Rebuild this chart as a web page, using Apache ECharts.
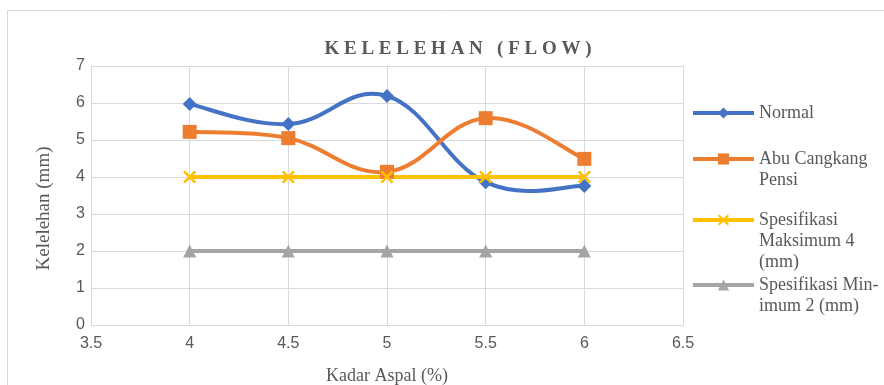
<!DOCTYPE html>
<html>
<head>
<meta charset="utf-8">
<script src="https://cdn.jsdelivr.net/npm/echarts@6/dist/echarts.min.js"></script>
<style>
  html, body { margin: 0; padding: 0; background: #fff; }
  #chart { width: 884px; height: 385px; }
</style>
</head>
<body>
<div id="chart"></div>
<script>
// Kadar aspal (%) on the x axis
const kadarAspal = [4, 4.5, 5, 5.5, 6];
// Kelelehan (mm) per mix
const normal = [5.97, 5.43, 6.19, 3.86, 3.76];
const abuCangkangPensi = [5.22, 5.05, 4.14, 5.59, 4.49];
const spesifikasiMaks = [4, 4, 4, 4, 4];
const spesifikasiMin = [2, 2, 2, 2, 2];
const seriesNames = ['Normal', 'Abu Cangkang Pensi', 'Spesifikasi Maksimum 4 (mm)', 'Spesifikasi Minimum 2 (mm)'];
const legendLabels = ['Normal', 'Abu Cangkang\nPensi', 'Spesifikasi\nMaksimum 4\n(mm)', 'Spesifikasi Min-\nimum 2 (mm)'];

const serif = '"Liberation Serif", "DejaVu Serif", serif';
const sans = '"Liberation Sans", Arial, sans-serif';
const textGrey = '#595959';
const colors = ['#4472C4', '#ED7D31', '#FFC000', '#A5A5A5'];
const xMark = 'path://M0,1.4L1.4,0L5,3.6L8.6,0L10,1.4L6.4,5L10,8.6L8.6,10L5,6.4L1.4,10L0,8.6L3.6,5Z';

const pairs = ys => kadarAspal.map((x, i) => [x, ys[i]]);
const lineH = 21;
// vertical position of each legend icon
const legendIconY = [113, 159, 220, 285];

const chart = echarts.init(document.getElementById('chart'), null, { renderer: 'canvas' });

// one legend block per entry, so the icon sits beside the first text line
const legends = seriesNames.map((name, i) => {
  const lines = legendLabels[i].split('\n').length;
  const pad = '\n'.repeat(lines - 1);
  const total = (2 * lines - 1) * lineH;
  return {
    left: 691,
    top: legendIconY[i] - total / 2,
    orient: 'vertical',
    itemWidth: 61,
    itemHeight: 14,
    itemGap: 0,
    padding: 0,
    data: [{ name, lineStyle: { width: 4, opacity: 1, color: colors[i] } }],
    formatter: () => pad + legendLabels[i],
    textStyle: {
      fontFamily: serif,
      fontSize: 18,
      color: textGrey,
      lineHeight: lineH
    }
  };
});

// markers (and the legend entry) for each series
const markerSeries = (name, data, color, symbol, size, showLine) => ({
  name,
  type: 'line',
  data: pairs(data),
  symbol,
  symbolSize: size,
  lineStyle: { color, width: 4, opacity: showLine ? 1 : 0 },
  itemStyle: { color },
  emphasis: { disabled: true },
  z: 4
});

// smooth curve through the points: cubic Bezier segments with Catmull-Rom style tangents
const curveSeries = (ys, color) => ({
  type: 'custom',
  data: pairs(ys),
  encode: { x: 0, y: 1 },
  silent: true,
  z: 3,
  renderItem: (params, api) => {
    const i = params.dataIndex;
    const n = kadarAspal.length;
    if (i >= n - 1) return null;
    const P = j => {
      const k = Math.max(0, Math.min(n - 1, j));
      return api.coord([kadarAspal[k], ys[k]]);
    };
    const p0 = P(i - 1), p1 = P(i), p2 = P(i + 1), p3 = P(i + 2);
    const t = 0.2;
    return {
      type: 'bezierCurve',
      shape: {
        x1: p1[0], y1: p1[1],
        x2: p2[0], y2: p2[1],
        cpx1: p1[0] + (p2[0] - p0[0]) * t,
        cpy1: p1[1] + (p2[1] - p0[1]) * t,
        cpx2: p2[0] - (p3[0] - p1[0]) * t,
        cpy2: p2[1] - (p3[1] - p1[1]) * t
      },
      style: { stroke: color, lineWidth: 4, fill: null, lineCap: 'round' }
    };
  }
});

chart.setOption({
  animation: false,
  backgroundColor: '#fff',
  color: colors,
  title: {
    text: 'K E L E L E H A N   ( F L O W )',
    left: 453,
    top: 35,
    textAlign: 'center',
    textStyle: { fontFamily: serif, fontSize: 19, fontWeight: 'bold', color: textGrey }
  },
  graphic: [{
    type: 'rect',
    shape: { x: 7.5, y: 10.5, width: 900, height: 400 },
    style: { fill: 'none', stroke: '#d9d9d9', lineWidth: 1 },
    silent: true,
    z: -1
  }],
  legend: legends,
  grid: { left: 91, right: 201, top: 66, bottom: 60, outerBoundsMode: 'none', containLabel: false },
  xAxis: {
    type: 'value',
    min: 3.5,
    max: 6.5,
    interval: 0.5,
    name: 'Kadar Aspal (%)',
    nameLocation: 'middle',
    nameGap: 42,
    nameTextStyle: { fontFamily: serif, fontSize: 18, color: textGrey },
    axisLine: { lineStyle: { color: '#d9d9d9' } },
    axisTick: { show: false },
    splitLine: { show: true, lineStyle: { color: '#d9d9d9' } },
    axisLabel: { fontFamily: sans, fontSize: 16, color: textGrey, margin: 11 }
  },
  yAxis: {
    type: 'value',
    min: 0,
    max: 7,
    interval: 1,
    name: 'Kelelehan (mm)',
    nameLocation: 'middle',
    nameGap: 37,
    nameTextStyle: { fontFamily: serif, fontSize: 19, color: textGrey, padding: [0, 26, 0, 0] },
    axisLine: { show: false },
    axisTick: { show: false },
    splitLine: { lineStyle: { color: '#d9d9d9' } },
    axisLabel: { fontFamily: sans, fontSize: 16, color: textGrey, margin: 6 }
  },
  series: [
    markerSeries(seriesNames[0], normal, colors[0], 'diamond', 14, false),
    markerSeries(seriesNames[1], abuCangkangPensi, colors[1], 'rect', 14, false),
    markerSeries(seriesNames[2], spesifikasiMaks, colors[2], xMark, 13, true),
    markerSeries(seriesNames[3], spesifikasiMin, colors[3], 'triangle', 13, true),
    curveSeries(normal, colors[0]),
    curveSeries(abuCangkangPensi, colors[1])
  ]
});
</script>
</body>
</html>
